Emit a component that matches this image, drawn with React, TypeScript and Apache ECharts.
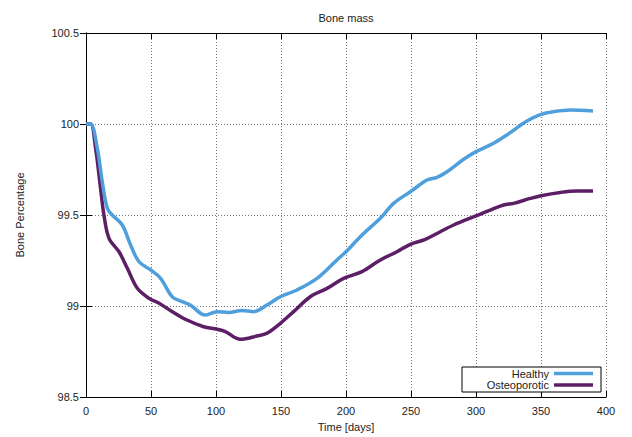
import React, { useEffect, useRef } from "react";
import * as echarts from "echarts";

const healthyDays = [0, 3.5, 8.7, 12.5, 16.4, 20.2, 27.9, 34.3, 40.8, 49.7, 57.4, 66.4, 74, 80.2, 91.8, 100.8, 109.7, 120, 129, 139.2, 149.5, 162.3, 177.7, 193, 200, 212.3, 226.4, 236.6, 249.5, 262.3, 270, 277.7, 290.5, 300, 313.5, 323.8, 339.2, 350, 359.7, 372.5, 390];
const healthyValues = [100, 100, 99.866, 99.683, 99.537, 99.5, 99.445, 99.335, 99.243, 99.198, 99.152, 99.05, 99.024, 99.005, 98.95, 98.969, 98.964, 98.975, 98.969, 99.005, 99.051, 99.088, 99.152, 99.253, 99.298, 99.39, 99.482, 99.564, 99.628, 99.692, 99.707, 99.738, 99.806, 99.848, 99.894, 99.94, 100.016, 100.053, 100.068, 100.077, 100.071];

const osteoDays = [0, 3.5, 7.4, 11.2, 13.8, 17.7, 25.4, 31.8, 39.5, 48.5, 56.2, 66.4, 77.7, 90.5, 100.8, 107.2, 118.7, 131.5, 139.2, 149.5, 159.7, 172.5, 185.4, 198.2, 212.3, 226.4, 239.2, 249.5, 261, 272.5, 282.8, 300, 311, 321.2, 329, 341.8, 350, 364.8, 377.7, 390];
const osteoValues = [100, 100, 99.866, 99.647, 99.5, 99.372, 99.298, 99.207, 99.097, 99.042, 99.015, 98.969, 98.923, 98.886, 98.872, 98.859, 98.817, 98.835, 98.85, 98.905, 98.969, 99.051, 99.097, 99.152, 99.189, 99.253, 99.298, 99.339, 99.366, 99.408, 99.445, 99.495, 99.527, 99.555, 99.564, 99.591, 99.606, 99.624, 99.632, 99.632];

const seriesNames = ["Healthy", "Osteoporotic"];
const seriesColors = ["#4f9fdc", "#5c1f66"];
const chartTitle = "Bone mass";
const xTitle = "Time [days]";
const yTitle = "Bone Percentage";

const FONT = "Liberation Sans, Arial, sans-serif";

export default function App() {
  const ref = useRef<HTMLDivElement>(null);
  useEffect(() => {
    if (!ref.current) return;
    const chart = echarts.init(ref.current, undefined, { renderer: "svg" });
    const gridLeft = 86, gridRight = 26, gridTop = 33, gridBottom = 40;
    const W = 632;
    const plotCenter = (gridLeft + (W - gridRight)) / 2;
    const lineData = [
      healthyDays.map((d, i) => [d, healthyValues[i]]),
      osteoDays.map((d, i) => [d, osteoValues[i]]),
    ];
    const axisText = { color: "#222", fontFamily: FONT, fontSize: 11 };
    const splitLine = { show: true, lineStyle: { color: "#777", type: [1, 2] as any, width: 1 } };
    const axisLine = { show: true, lineStyle: { color: "#000", width: 1 } };
    const axisTick = { show: true, inside: true, length: 6, lineStyle: { color: "#000" } };

    const legRight = 601, legTop = 367, legLeft = 462, legBottom = 392;
    const legendGraphics: any[] = [
      { type: "rect", shape: { x: legLeft, y: legTop, width: legRight - legLeft, height: legBottom - legTop }, style: { fill: "#fff", stroke: "#000", lineWidth: 1 }, z: 100 },
    ];
    seriesNames.forEach((n, i) => {
      const y = 373.5 + i * 11.5;
      legendGraphics.push({ type: "text", x: 549, y, style: { text: n, fill: "#222", font: `11px ${FONT}`, textAlign: "right", textVerticalAlign: "middle" }, z: 101 });
      legendGraphics.push({ type: "line", shape: { x1: 554, y1: y, x2: 593, y2: y }, style: { stroke: seriesColors[i], lineWidth: 3.5 }, z: 101 });
    });

    chart.setOption({
      animation: false,
      backgroundColor: "#fff",
      grid: { left: gridLeft, right: gridRight, top: gridTop, bottom: gridBottom },
      xAxis: [
        {
          type: "value", min: 0, max: 400, interval: 50, position: "bottom",
          axisLine, axisTick, splitLine,
          axisLabel: { ...axisText, margin: 8 },
          name: xTitle, nameLocation: "middle", nameGap: 24,
          nameTextStyle: { ...axisText },
        },
        {
          type: "value", min: 0, max: 400, interval: 50, position: "top",
          axisLine, axisTick, splitLine: { show: false }, axisLabel: { show: false },
        },
      ],
      yAxis: [
        {
          type: "value", min: 98.5, max: 100.5, interval: 0.5, position: "left",
          axisLine, axisTick, splitLine,
          axisLabel: { ...axisText, margin: 7 },
          name: yTitle, nameLocation: "middle", nameGap: 61,
          nameTextStyle: { ...axisText },
        },
        {
          type: "value", min: 98.5, max: 100.5, interval: 0.5, position: "right",
          axisLine, axisTick, splitLine: { show: false }, axisLabel: { show: false },
        },
      ],
      series: seriesNames.map((n, i) => ({
        name: n,
        type: "line",
        data: lineData[i],
        smooth: 0.35,
        showSymbol: false,
        lineStyle: { color: seriesColors[i], width: 3.5 },
        itemStyle: { color: seriesColors[i] },
        z: 3 - i,
      })),
      graphic: [
        { type: "text", x: plotCenter, y: 18, style: { text: chartTitle, fill: "#222", font: `11px ${FONT}`, textAlign: "center", textVerticalAlign: "middle" } },
        ...legendGraphics,
      ],
    });
    return () => chart.dispose();
  }, []);
  return <div ref={ref} style={{ width: 632, height: 437, position: "absolute", left: 0, top: 0 }} />;
}
